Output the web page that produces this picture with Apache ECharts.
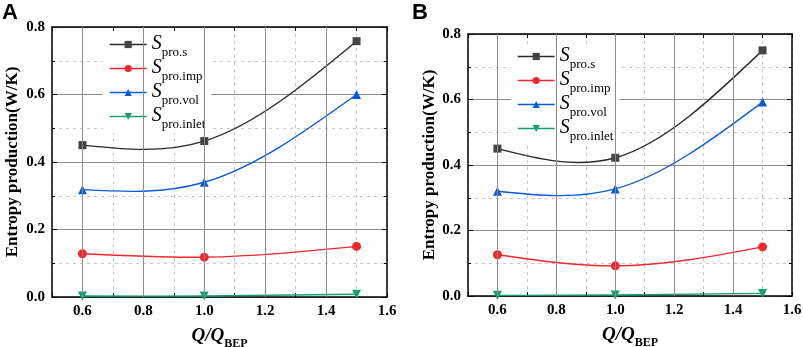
<!DOCTYPE html>
<html>
<head>
<meta charset="utf-8">
<script src="https://cdn.jsdelivr.net/npm/echarts@6/dist/echarts.min.js"></script>
<style>html,body{margin:0;padding:0;background:#fff}#c{width:803px;height:347px}</style>
</head>
<body>
<div id="c"></div>
<script>
// ---- data ----
const xValues = [0.6, 1.0, 1.5];
const seriesNames = ['pro.s', 'pro.imp', 'pro.vol', 'pro.inlet'];
// Panel A
const aProS = [0.450, 0.462, 0.758];
const aProImp = [0.128, 0.118, 0.150];
const aProVol = [0.318, 0.340, 0.600];
const aProInlet = [0.003, 0.003, 0.008];
// Panel B
const bProS = [0.450, 0.422, 0.750];
const bProImp = [0.126, 0.092, 0.150];
const bProVol = [0.320, 0.327, 0.592];
const bProInlet = [0.002, 0.003, 0.008];
// axis ticks
const xMajorTicks = [0.6, 0.8, 1.0, 1.2, 1.4];
const panelLabels = ['A', 'B'];

const SERIF = '"Liberation Serif","Times New Roman",serif';
const colors = ['#2b2b2b', '#f2262c', '#0a5bd6', '#12a070'];
const symbols = ['rect', 'circle', 'triangle', 'triangle'];
const symbolSizes = [8, 9, 9, 9];
const symbolRotates = [0, 0, 0, 180];

// natural cubic spline slopes (curve rendering, like a "smooth" option)
function splineSlopes(xs, ys) {
  const n = xs.length;
  const h = [], M = new Array(n).fill(0);
  for (let i = 0; i < n - 1; i++) h.push(xs[i + 1] - xs[i]);
  if (n > 2) {
    const a = [], b = [], c = [], r = [];
    for (let i = 1; i < n - 1; i++) {
      a.push(h[i - 1]); b.push(2 * (h[i - 1] + h[i])); c.push(h[i]);
      r.push(6 * ((ys[i + 1] - ys[i]) / h[i] - (ys[i] - ys[i - 1]) / h[i - 1]));
    }
    const m = b.length;
    for (let i = 1; i < m; i++) {
      const w = a[i] / b[i - 1];
      b[i] -= w * c[i - 1]; r[i] -= w * r[i - 1];
    }
    const sol = new Array(m);
    sol[m - 1] = r[m - 1] / b[m - 1];
    for (let i = m - 2; i >= 0; i--) sol[i] = (r[i] - c[i] * sol[i + 1]) / b[i];
    for (let i = 0; i < m; i++) M[i + 1] = sol[i];
  }
  const d = [];
  for (let i = 0; i < n; i++) {
    if (i < n - 1) d.push((ys[i + 1] - ys[i]) / h[i] - h[i] * (2 * M[i] + M[i + 1]) / 6);
    else d.push((ys[i] - ys[i - 1]) / h[i - 1] + h[i - 1] * (M[i - 1] + 2 * M[i]) / 6);
  }
  return d;
}

const chart = echarts.init(document.getElementById('c'));

const grids = [
  {left: 52, right: 416, top: 27, bottom: 50, outerBoundsMode: 'none', containLabel: false},
  {left: 468, right: 11, top: 34, bottom: 51, outerBoundsMode: 'none', containLabel: false}
];

const xAxes = [], yAxes = [], series = [], legends = [];
const panels = [[aProS, aProImp, aProVol, aProInlet], [bProS, bProImp, bProVol, bProInlet]];
const legendPos = [{left: 103, top: 34}, {left: 511, top: 46}];
const yNameGap = [31, 30];

grids.forEach((g, gi) => {
  const baseX = {
    type: 'value', gridIndex: gi, min: 0.5, max: 1.6, interval: 0.1,
    axisLine: {show: true, onZero: false, lineStyle: {color: '#000', width: 1.5}},
    axisTick: {show: true, inside: true, length: 4, lineStyle: {color: '#000', width: 1}},
    splitLine: {show: false}
  };
  xAxes.push(Object.assign({}, baseX, {
    position: 'bottom',
    axisLabel: {
      color: '#000', fontFamily: SERIF, fontWeight: 'bold', fontSize: 15, margin: 7,
      formatter: v => (Math.round(v * 10) % 2 === 0 ? v.toFixed(1) : '')
    },
    splitLine: {show: true, lineStyle: {color: '#c8c8c8', type: [3, 4], width: 1}},
    name: '{q|Q/Q}{sub|BEP}', nameLocation: 'middle', nameGap: 30,
    nameTextStyle: {
      rich: {
        q: {fontFamily: SERIF, fontStyle: 'italic', fontWeight: 'bold', fontSize: 19, color: '#000', verticalAlign: 'bottom'},
        sub: {fontFamily: SERIF, fontWeight: 'bold', fontSize: 12, color: '#000', verticalAlign: 'bottom', padding: [0, 0, -4, 0]}
      }
    }
  }));
  xAxes.push(Object.assign({}, baseX, {position: 'top', axisLabel: {show: false}}));
  const baseY = {
    type: 'value', gridIndex: gi, min: 0, max: 0.8, interval: 0.2,
    axisLine: {show: true, onZero: false, lineStyle: {color: '#000', width: 1.5}},
    axisTick: {show: true, inside: true, length: 5, lineStyle: {color: '#000', width: 1}},
    minorTick: {show: true, splitNumber: 2, length: 3, lineStyle: {color: '#000', width: 1}},
    splitLine: {show: false}
  };
  yAxes.push(Object.assign({}, baseY, {
    position: 'left',
    axisLabel: {color: '#000', fontFamily: SERIF, fontWeight: 'bold', fontSize: 15, margin: 7,
      formatter: v => v.toFixed(1)},
    splitLine: {show: true, lineStyle: {color: '#8c8c8c', width: 1}},
    minorSplitLine: {show: true, lineStyle: {color: '#c8c8c8', type: [3, 4], width: 1}},
    name: 'Entropy production(W/K)', nameLocation: 'middle', nameGap: yNameGap[gi],
    nameTextStyle: {fontFamily: SERIF, fontWeight: 'bold', fontSize: 17, color: '#000'}
  }));
  yAxes.push(Object.assign({}, baseY, {position: 'right', axisLabel: {show: false}}));

  // solid major vertical grid lines
  series.push({
    type: 'line', xAxisIndex: gi * 2, yAxisIndex: gi * 2, data: [], silent: true, z: 1,
    markLine: {
      silent: true, symbol: 'none', label: {show: false}, animation: false,
      lineStyle: {color: '#8c8c8c', type: 'solid', width: 1},
      data: xMajorTicks.map(v => ({xAxis: v}))
    }
  });

  panels[gi].forEach((vals, si) => {
    const slopes = splineSlopes(xValues, vals);
    // spline curve through the data points
    series.push({
      type: 'custom', xAxisIndex: gi * 2, yAxisIndex: gi * 2, silent: true, z: 2,
      data: xValues.map((x, i) => [x, vals[i]]),
      encode: {x: 0, y: 1},
      renderItem: (params, api) => {
        const i = params.dataIndex;
        if (i >= xValues.length - 1) return null;
        const x0 = xValues[i], x1 = xValues[i + 1], y0 = vals[i], y1 = vals[i + 1];
        const h = x1 - x0;
        const p0 = api.coord([x0, y0]);
        const c1 = api.coord([x0 + h / 3, y0 + slopes[i] * h / 3]);
        const c2 = api.coord([x1 - h / 3, y1 - slopes[i + 1] * h / 3]);
        const p1 = api.coord([x1, y1]);
        return {
          type: 'bezierCurve',
          shape: {x1: p0[0], y1: p0[1], cpx1: c1[0], cpy1: c1[1], cpx2: c2[0], cpy2: c2[1], x2: p1[0], y2: p1[1]},
          style: {stroke: colors[si], lineWidth: 1.4, fill: null}
        };
      }
    });
    // markers
    series.push({
      name: seriesNames[si], type: 'line', xAxisIndex: gi * 2, yAxisIndex: gi * 2,
      data: xValues.map((x, i) => [x, vals[i]]),
      symbol: symbols[si], symbolSize: symbolSizes[si], symbolRotate: symbolRotates[si],
      showSymbol: true,
      lineStyle: {color: colors[si], width: 1.4, opacity: 0},
      itemStyle: {color: si === 0 ? '#444' : colors[si]},
      z: 3
    });
  });

  legends.push({
    orient: 'vertical', left: legendPos[gi].left, top: legendPos[gi].top,
    backgroundColor: '#fff', padding: [0, 6, 2, 6], itemGap: -1,
    itemWidth: 37, itemHeight: 9,
    data: seriesNames.map((n, si) => ({
      name: n,
      itemStyle: {color: si === 0 ? '#444' : colors[si]},
      lineStyle: {color: colors[si], width: 1.4, opacity: 1}
    })),
    formatter: n => '{s|S}{sub|' + n + '}',
    textStyle: {
      rich: {
        s: {fontFamily: SERIF, fontStyle: 'italic', fontSize: 20, color: '#000', lineHeight: 19, verticalAlign: 'bottom'},
        sub: {fontFamily: SERIF, fontSize: 13, color: '#000', lineHeight: 13, verticalAlign: 'bottom', padding: [0, 0, -5, 0]}
      }
    },
    selectedMode: false
  });
});

chart.setOption({
  animation: false,
  backgroundColor: '#fff',
  grid: grids,
  xAxis: xAxes,
  yAxis: yAxes,
  legend: legends,
  series: series,
  graphic: [
    {type: 'text', left: 2, top: 2, style: {text: panelLabels[0], fontFamily: '"Liberation Sans",Arial,sans-serif', fontWeight: 'bold', fontSize: 22, fill: '#000'}},
    {type: 'text', left: 412, top: 2, style: {text: panelLabels[1], fontFamily: '"Liberation Sans",Arial,sans-serif', fontWeight: 'bold', fontSize: 22, fill: '#000'}}
  ]
});
</script>
</body>
</html>
